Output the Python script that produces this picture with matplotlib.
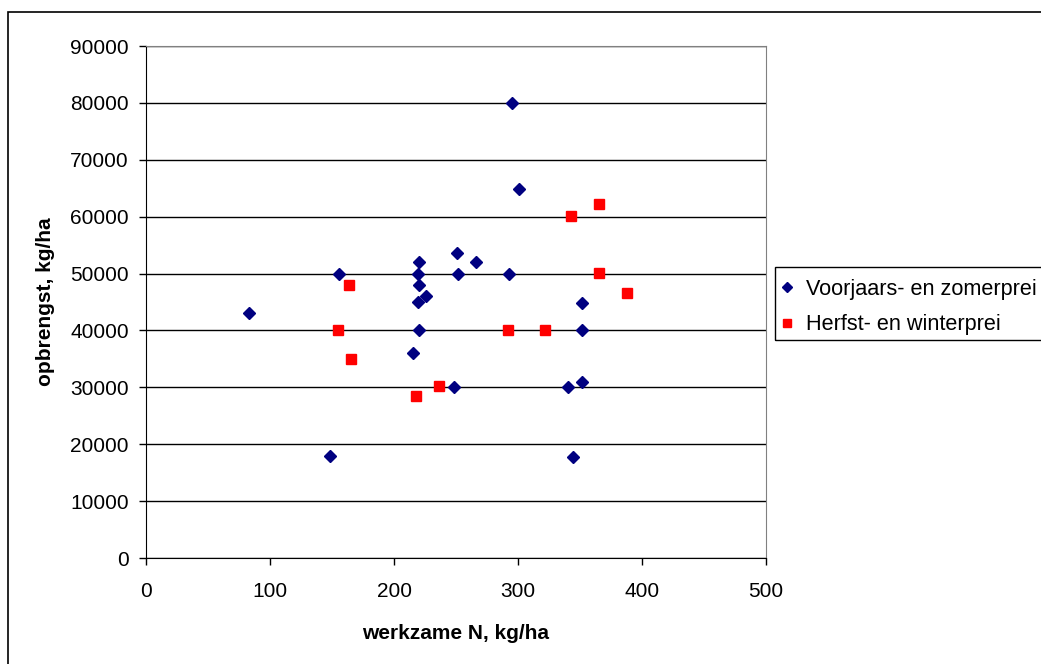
import matplotlib
matplotlib.use("Agg")
import matplotlib.pyplot as plt
from matplotlib.patches import Rectangle

plt.rcParams['font.family'] = ['Liberation Sans', 'DejaVu Sans']

# Voorjaars- en zomerprei
voor_n = [83, 148, 156, 215, 219, 219, 220, 220, 220, 226, 248, 251, 252,
          266, 293, 295, 301, 340, 344, 352, 352, 352]
voor_opb = [43000, 17900, 50000, 36000, 50000, 45000, 52000, 48000, 40000,
            46000, 30000, 53700, 50000, 52100, 50000, 80000, 64800, 30000,
            17700, 44900, 40000, 31000]

# Herfst- en winterprei
herfst_n = [155, 164, 165, 218, 236, 292, 322, 343, 365, 365, 388]
herfst_opb = [40100, 48000, 35000, 28400, 30200, 40100, 40100, 60200,
              62200, 50100, 46500]

xticks = [0, 100, 200, 300, 400, 500]
yticks = list(range(0, 90001, 10000))

fig = plt.figure(figsize=(10.41, 6.64), dpi=100)
W, H = 1041, 664

# outer chart frame
fig.patches.append(Rectangle((8 / W, -0.1), 1.2, (H - 12) / H + 0.1,
                             transform=fig.transFigure, fill=False,
                             edgecolor='black', linewidth=1.2))
# legend frame (runs off the right edge like in the original)
fig.patches.append(Rectangle((775 / W, (H - 340) / H), 0.5, 73 / H,
                             transform=fig.transFigure, fill=False,
                             edgecolor='black', linewidth=1))

ax = fig.add_axes([146 / W, (H - 558) / H, 620 / W, 512 / H])
ax.set_axisbelow(True)
ax.grid(axis='y', color='black', linewidth=1)

ax.plot(voor_n, voor_opb, linestyle='none', marker='D', markersize=6.5,
        color='#000080', label='Voorjaars- en zomerprei')
ax.plot(herfst_n, herfst_opb, linestyle='none', marker='s', markersize=7.5,
        color='#ff0000', label='Herfst- en winterprei')

ax.set_xlim(0, 500)
ax.set_ylim(0, 90000)
ax.set_xticks(xticks)
ax.set_yticks(yticks)
ax.tick_params(labelsize=15, length=5, width=1, direction='out', color='black')
ax.tick_params(axis='x', pad=12.5)
ax.tick_params(axis='y', pad=7.5)

for s in ['top', 'right']:
    ax.spines[s].set_color('#808080')
for s in ['left', 'bottom']:
    ax.spines[s].set_color('black')

ax.set_xlabel('werkzame N, kg/ha', fontsize=15, fontweight='bold', labelpad=16)
ax.set_ylabel('opbrengst, kg/ha', fontsize=15, fontweight='bold', labelpad=11)

leg = fig.legend(loc='upper left', bbox_to_anchor=(778 / W, (H - 279) / H),
                 fontsize=15.6, frameon=False, handletextpad=0.5,
                 borderaxespad=0, borderpad=0, handlelength=0.8,
                 labelspacing=0.65, markerscale=0.72)

fig.savefig('out.png', dpi=100)
